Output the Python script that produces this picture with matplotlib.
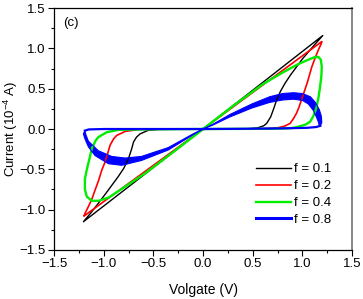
import numpy as np
import matplotlib
matplotlib.use('Agg')
import matplotlib.pyplot as plt

plt.rcParams['font.family'] = ['Liberation Sans', 'DejaVu Sans']
plt.rcParams['mathtext.fontset'] = 'custom'
plt.rcParams['mathtext.rm'] = 'Liberation Sans'
plt.rcParams['mathtext.it'] = 'Liberation Sans'

# hysteresis loops, V in volts, I in 1e-4 A
black_v = [0, 0.30, 0.45, 0.55, 0.61, 0.64, 0.68, 0.71, 0.74, 0.78, 0.826, 0.88, 0.94, 1.00, 1.077, 1.14, 1.205,
           0, -1.205, -1.13, -1.054, -0.98, -0.92, -0.86, -0.80, -0.752, -0.72, -0.70, -0.67, -0.634, -0.55, -0.45, 0]
black_i = [0, 0.0, 0.003, 0.015, 0.04, 0.07, 0.15, 0.25, 0.36, 0.47, 0.57, 0.67, 0.77, 0.87, 0.98, 1.07, 1.16,
           0, -1.15, -1.04, -0.92, -0.80, -0.70, -0.60, -0.49, -0.37, -0.25, -0.16, -0.10, -0.06, -0.015, -0.005, 0]

red_v = [0, 0.6, 0.75, 0.82, 0.876, 0.91, 0.94, 0.965, 0.99, 1.02, 1.05, 1.094, 1.13, 1.16, 1.19, 1.195,
         0, -1.20, -1.19, -1.155, -1.12, -1.087, -1.05, -1.02, -0.987, -0.96, -0.936, -0.90, -0.87, -0.785, -0.65, 0]
red_i = [0, 0.003, 0.015, 0.035, 0.07, 0.13, 0.195, 0.27, 0.36, 0.47, 0.58, 0.77, 0.89, 0.98, 1.06, 1.085,
         0, -1.08, -1.05, -0.963, -0.87, -0.756, -0.63, -0.51, -0.41, -0.30, -0.20, -0.12, -0.08, -0.03, -0.005, 0]

green_v = [0, 0.3, 0.6, 0.8, 0.95, 1.05, 1.12, 1.16, 1.185, 1.195, 1.19, 1.175, 1.16, 1.14, 1.11, 1.077, 1.03, 0.99,
           0.93, 0.876, 0.7, 0, -0.5, -0.85, -0.97, -1.054, -1.08, -1.12, -1.15, -1.17, -1.19, -1.19, -1.17, -1.12,
           -1.05, -0.95, -0.785, -0.584, -0.3, 0]
green_i = [0, 0.285, 0.555, 0.70, 0.80, 0.855, 0.89, 0.895, 0.86, 0.77, 0.65, 0.5, 0.38, 0.26, 0.16, 0.09, 0.055, 0.04,
           0.02, 0.01, 0.003, 0, -0.003, -0.01, -0.04, -0.10, -0.14, -0.24, -0.40, -0.50, -0.62, -0.75, -0.84, -0.89,
           -0.89, -0.85, -0.715, -0.55, -0.285, 0]

# f = 0.8 drifts from cycle to cycle -> ribbon between outer and inner cycle
blue_pos_outer_v = [0, 0.1, 0.27, 0.49, 0.67, 0.80, 0.91, 1.00, 1.08, 1.13, 1.17, 1.19, 1.195, 1.18]
blue_pos_outer_i = [0, 0.06, 0.18, 0.31, 0.40, 0.44, 0.45, 0.44, 0.40, 0.33, 0.24, 0.16, 0.08, 0.04]
blue_pos_inner_v = [0, 0.1, 0.27, 0.49, 0.67, 0.80, 0.91, 1.00, 1.06, 1.11, 1.14, 1.16, 1.17]
blue_pos_inner_i = [0, 0.05, 0.15, 0.26, 0.33, 0.36, 0.37, 0.355, 0.31, 0.23, 0.15, 0.09, 0.04]
blue_pos_zero_v = [1.18, 1.14, 1.05, 0.8, 0.4, 0]
blue_pos_zero_i = [0.04, 0.025, 0.015, 0.008, 0.003, 0]

blue_neg_outer_v = [0, -0.1, -0.35, -0.62, -0.82, -0.953, -1.087, -1.155, -1.19, -1.205, -1.19]
blue_neg_outer_i = [0, -0.07, -0.26, -0.39, -0.45, -0.43, -0.33, -0.22, -0.12, -0.06, -0.02]
blue_neg_inner_v = [0, -0.1, -0.35, -0.62, -0.785, -0.92, -1.054, -1.155, -1.18, -1.19]
blue_neg_inner_i = [0, -0.06, -0.23, -0.34, -0.36, -0.34, -0.27, -0.15, -0.07, -0.02]
blue_neg_zero_v = [-1.19, -1.15, -1.0, -0.6, 0]
blue_neg_zero_i = [-0.02, -0.005, 0, 0, 0]

fig = plt.figure(figsize=(3.63, 2.99), dpi=100)
ax = fig.add_axes([0.149, 0.164, 0.821, 0.809])

ax.plot(black_v, black_i, color='black', lw=1.0, label='f = 0.1')
ax.plot(red_v, red_i, color='#ff0000', lw=1.2, label='f = 0.2')
ax.plot(green_v, green_i, color='#00ee00', lw=1.7, label='f = 0.4')

blue = '#0000ff'
for ov, oi, iv, ii, zv, zi in [
        (blue_pos_outer_v, blue_pos_outer_i, blue_pos_inner_v, blue_pos_inner_i, blue_pos_zero_v, blue_pos_zero_i),
        (blue_neg_outer_v, blue_neg_outer_i, blue_neg_inner_v, blue_neg_inner_i, blue_neg_zero_v, blue_neg_zero_i)]:
    ax.fill(np.r_[ov, iv[::-1]], np.r_[oi, ii[::-1]], color=blue, lw=0)
    ax.plot(ov, oi, color=blue, lw=0.8)
    ax.plot(iv, ii, color=blue, lw=0.8)
    ax.plot(zv, zi, color=blue, lw=1.6)
ax.plot([], [], color=blue, lw=2.2, label='f = 0.8')

ax.set_xlim(-1.5, 1.5)
ax.set_ylim(-1.5, 1.5)
ax.set_xticks(np.arange(-1.5, 1.51, 0.5))
ax.set_yticks(np.arange(-1.5, 1.51, 0.5))
ax.set_xticks(np.arange(-1.5, 1.51, 0.25), minor=True)
ax.set_yticks(np.arange(-1.5, 1.51, 0.25), minor=True)
ax.tick_params(which='major', direction='out', length=4, width=0.8, labelsize=9.5, pad=2)
ax.tick_params(which='minor', direction='out', length=2, width=0.8)
for s in ax.spines.values():
    s.set_linewidth(0.9)
ax.spines['right'].set_color('#888888')
ax.spines['right'].set_linewidth(1.4)

ax.set_xlabel('Volgate (V)', fontsize=10)
ax.xaxis.set_label_coords(0.5, -0.135)
ax.set_ylabel('Current (10$^{-4}$ A)', fontsize=9.5)
ax.yaxis.set_label_coords(-0.113, 0.5)
ax.text(0.03, 0.94, '(c)', transform=ax.transAxes, fontsize=9.5, va='center')

ax.legend(loc='lower right', frameon=False, fontsize=9.5, handlelength=2.7, handletextpad=0.2,
          labelspacing=0.35, bbox_to_anchor=(0.97, 0.05))

fig.savefig('out.png', dpi=100)
